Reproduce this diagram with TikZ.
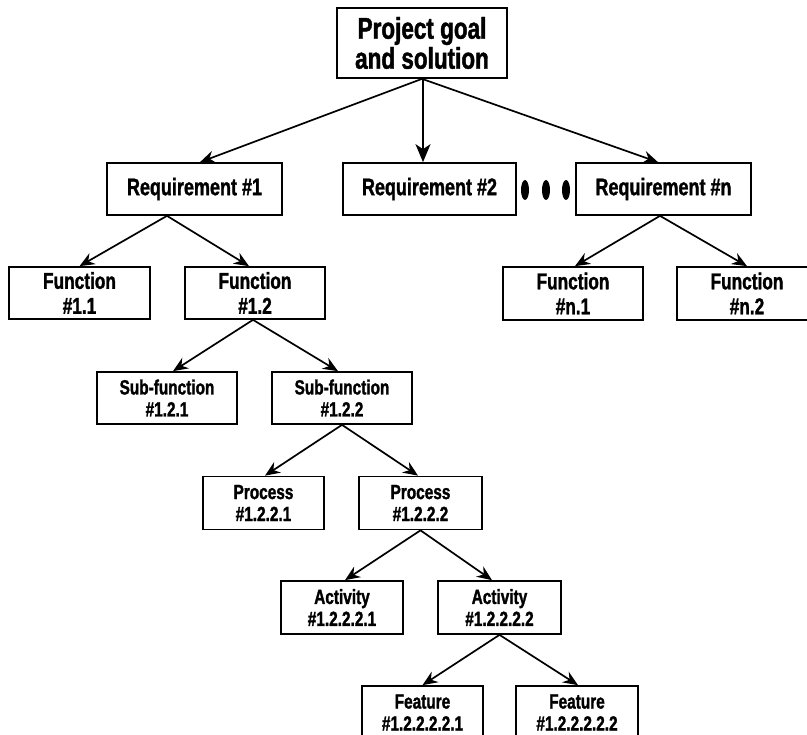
\documentclass[tikz,border=0pt]{standalone}
\usepackage{fontspec}
\setmainfont{Liberation Sans}[FakeStretch=0.75, BoldFeatures={FakeBold=1.4}]
\usetikzlibrary{arrows.meta,shapes.geometric}
\begin{document}
\begin{tikzpicture}[x=1pt,y=-1pt,
  box/.style={draw, line width=1.7pt, inner sep=0pt, align=center, minimum height=52pt},
  ftop/.style={font=\fontsize{30}{30}\selectfont\bfseries},
  freq/.style={font=\fontsize{24}{25}\selectfont\bfseries},
  ffun/.style={font=\fontsize{23}{25}\selectfont\bfseries},
  fsm/.style={font=\fontsize{20.5}{22}\selectfont\bfseries},
  arr/.style={line width=1.7pt, -{Stealth[length=15pt,width=12.5pt,inset=5pt]}},
  bigarr/.style={line width=1.7pt, -{Stealth[length=18pt,width=15pt,inset=5pt]}},
  dotmark/.style={ellipse, fill=black, inner sep=0pt, minimum width=8pt, minimum height=20pt}
]
\useasboundingbox (0,0) rectangle (807,735);
\clip (0,0) rectangle (807,735);

\node[box, ftop, minimum width=170pt, minimum height=70pt] (top) at (422,43) {Project goal\\and solution};

\node[box, freq, minimum width=175pt] (req1) at (194.5,189) {Requirement \#1};
\node[box, freq, minimum width=173pt] (req2) at (429.5,189) {Requirement \#2};
\node[box, freq, minimum width=175pt] (reqn) at (663.5,189) {Requirement \#n};

\node[dotmark] (d1) at (525,190) {};
\node[dotmark] (d2) at (546,190) {};
\node[dotmark] (d3) at (566,190) {};

\node[box, ffun, minimum width=141pt] (f11) at (79.5,293) {Function\\\#1.1};
\node[box, ffun, minimum width=140pt] (f12) at (255,293) {Function\\\#1.2};
\node[box, ffun, minimum width=140pt, minimum height=53pt] (fn1) at (573,293.5) {Function\\\#n.1};
\node[box, ffun, minimum width=140pt, minimum height=53pt] (fn2) at (747,293.5) {Function\\\#n.2};

\node[box, fsm, minimum width=140pt] (s1) at (167,398) {Sub-function\\\#1.2.1};
\node[box, fsm, minimum width=140pt] (s2) at (342,398) {Sub-function\\\#1.2.2};

\node[box, fsm, minimum width=121pt, minimum height=53pt] (p1) at (263.5,503) {Process\\\#1.2.2.1};
\node[box, fsm, minimum width=123pt, minimum height=53pt] (p2) at (420.5,503) {Process\\\#1.2.2.2};

\node[box, fsm, minimum width=122pt, minimum height=53pt] (a1) at (342,607.5) {Activity\\\#1.2.2.2.1};
\node[box, fsm, minimum width=123pt, minimum height=53pt] (a2) at (499.5,607.5) {Activity\\\#1.2.2.2.2};

\node[box, fsm, minimum width=121pt, minimum height=53pt] (e1) at (422.5,712.5) {Feature\\\#1.2.2.2.2.1};
\node[box, fsm, minimum width=122pt, minimum height=53pt] (e2) at (577,712.5) {Feature\\\#1.2.2.2.2.2};

\draw[arr] (top.south) -- ([xshift=5.5pt]req1.north);
\draw[bigarr] ([xshift=1pt]top.south) -- ([xshift=-6.5pt]req2.north);
\draw[arr] (top.south) -- ([xshift=-5.5pt]reqn.north);

\draw[arr] ([xshift=-27.5pt]req1.south) -- (f11.north);
\draw[arr] ([xshift=-27.5pt]req1.south) -- ([xshift=-6pt]f12.north);

\draw[arr] ([xshift=-3.5pt]reqn.south) -- ([xshift=2pt]fn1.north);
\draw[arr] ([xshift=-3.5pt]reqn.south) -- (fn2.north);

\draw[arr] ([xshift=-2pt]f12.south) -- ([xshift=6pt]s1.north);
\draw[arr] ([xshift=-2pt]f12.south) -- ([xshift=-4pt]s2.north);

\draw[arr] (s2.south) -- ([xshift=1.5pt]p1.north);
\draw[arr] (s2.south) -- ([xshift=-2.5pt]p2.north);

\draw[arr] (p2.south) -- ([xshift=3pt]a1.north);
\draw[arr] (p2.south) -- ([xshift=-7.5pt]a2.north);

\draw[arr] (a2.south) -- (e1.north);
\draw[arr] (a2.south) -- ([xshift=1pt]e2.north);
\end{tikzpicture}
\end{document}
